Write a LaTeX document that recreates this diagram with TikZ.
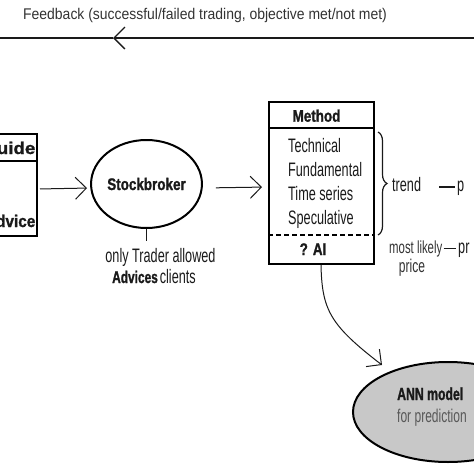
\documentclass[tikz,border=0pt]{standalone}
\usepackage{fontspec}
\setmainfont{Liberation Sans}
\newfontfamily\fbfont[FakeStretch=0.9]{Liberation Sans}
\newfontfamily\condfont[FakeStretch=0.65]{Liberation Sans}
\newfontfamily\condboldA[FakeStretch=0.8,BoldFeatures={FakeBold=1.2}]{Liberation Sans}
\newfontfamily\condboldB[FakeStretch=0.7,BoldFeatures={FakeBold=1.2}]{Liberation Sans}
\newfontfamily\condboldC[FakeStretch=0.9,BoldFeatures={FakeBold=1.2}]{Liberation Sans}
\newfontfamily\condboldD[FakeStretch=1.1,BoldFeatures={FakeBold=1.2}]{Liberation Sans}
\usetikzlibrary{arrows.meta,decorations.pathreplacing,shapes.geometric}
\definecolor{ink}{HTML}{1A1A1A}
\definecolor{fbink}{HTML}{333333}
\definecolor{anngray}{HTML}{C8C8C8}
\begin{document}
\begin{tikzpicture}[x=1pt,y=-1pt,
  conn/.style={draw=ink,line width=1pt},
  openarrow/.style={conn,-{Straight Barb[length=11pt,width=22pt]}},
  boxline/.style={draw=black,line width=2pt},
  txt/.style={inner sep=0pt,text=ink,font=\condfont\fontsize{19.5}{22}\selectfont},
  hdr/.style={inner sep=0pt,text=ink,font=\condboldA\bfseries\fontsize{16.8}{19}\selectfont},
  hdrB/.style={inner sep=0pt,text=ink,font=\condboldB\bfseries\fontsize{17.5}{19}\selectfont},
  hdrC/.style={inner sep=0pt,text=ink,font=\condboldC\bfseries\fontsize{17}{19}\selectfont}
]
\useasboundingbox (0,0) rectangle (474,474);
\clip (0,0) rectangle (474,474);

% feedback line
\node[inner sep=0pt,anchor=base west,text=fbink,font=\fbfont\fontsize{15.5}{18}\selectfont] (fb) at (23,19.5) {Feedback (successful/failed trading, objective met/not met)};
\coordinate (fbR) at (474,38);
\coordinate (fbM) at (113,38);
\coordinate (fbL) at (0,38);
\draw[openarrow,line width=1.3pt] (fbR) -- (fbM);
\draw[conn,line width=1.3pt] (fbM) -- (fbL);

% left box (Guide / Advice)
\node[boxline,rectangle,minimum width=78pt,minimum height=102pt,anchor=north east,inner sep=0pt] (guide) at (38,133) {};
\coordinate (guideDivL) at (-40,161);
\coordinate (guideDivR) at (38,161);
\draw[boxline] (guideDivL) -- (guideDivR);
\node[hdrC,font=\condboldD\bfseries\fontsize{17}{19}\selectfont,anchor=base east] (guideT) at (35.5,154) {Guide};
\node[hdrC,anchor=base east] (adviceT) at (35.5,227) {Advice};

% Stockbroker
\node[ellipse,boxline,minimum width=107pt,minimum height=88pt,inner sep=0pt,hdr] (broker) at (146.5,184) {Stockbroker};
\coordinate (tickB) at (146.5,241);
\draw[conn,line width=1.2pt] (broker.south) -- (tickB);
\node[txt,anchor=base] (only) at (160.5,262) {only Trader allowed};
\node[txt,anchor=base west] (advices) at (112,283) {{\condboldB\bfseries\fontsize{17}{19}\selectfont Advices}\hspace{2pt}clients};

% Method box
\node[boxline,rectangle,minimum width=105pt,minimum height=162pt,anchor=north west,inner sep=0pt] (method) at (268,101) {};
\coordinate (mDivL) at (268,128);
\coordinate (mDivR) at (373,128);
\draw[boxline] (mDivL) -- (mDivR);
\coordinate (mDashL) at (268,235);
\coordinate (mDashR) at (373,235);
\draw[boxline,dash pattern=on 5pt off 3pt] (mDashL) -- (mDashR);
\node[hdr,anchor=base] (methodT) at (316.5,121.7) {Method};
\node[txt,anchor=base west] (tech) at (288,152) {Technical};
\node[txt,anchor=base west] (fund) at (288,176) {Fundamental};
\node[txt,anchor=base west] (times) at (288,200) {Time series};
\node[txt,anchor=base west] (spec) at (288,224) {Speculative};
\node[hdr,anchor=base] (ai) at (313,255) {? AI};

% brace and outputs
\coordinate (brTop) at (378,132);
\coordinate (brBot) at (378,235);
\draw[draw=ink,line width=1.2pt,decorate,decoration={brace,amplitude=9pt}] (brTop) -- (brBot);
\node[txt,anchor=base west] (trend) at (392,191.7) {trend};
\node[txt,anchor=base west] (p1) at (457,191.7) {p};
\coordinate (dash1a) at (439,187);
\coordinate (dash1b) at (455,187);
\draw[conn,line width=1.2pt] (dash1a) -- (dash1b);
\node[txt,anchor=base west,text=fbink,font=\condfont\fontsize{17.5}{20}\selectfont] (likely) at (389,253) {most likely};
\node[txt,anchor=base west] (pr) at (458,253) {pr};
\coordinate (dash2a) at (443.5,248.5);
\coordinate (dash2b) at (456,248.5);
\draw[conn,line width=1.2pt] (dash2a) -- (dash2b);
\node[txt,anchor=base,text=fbink,font=\condfont\fontsize{18.5}{20}\selectfont] (price) at (412,272) {price};

% connectors
\draw[openarrow,shorten <=2pt,shorten >=3pt] ([yshift=-4pt]guide.east) -- ([yshift=-4pt]broker.west);
\draw[openarrow,shorten <=13pt,shorten >=6pt] ([yshift=-4pt]broker.east) -- ([yshift=-4pt]method.west);

% ANN model
\node[ellipse,boxline,fill=anngray,minimum width=190pt,minimum height=100pt] (ann) at (448,412) {};
\node[hdrB,anchor=base west] (annT) at (397,400) {ANN model};
\node[txt,anchor=base west,text=black!65,font=\condfont\fontsize{18.5}{21}\selectfont] (annP) at (397,422) {for prediction};

\draw[openarrow] ([xshift=-0.5pt]method.south) .. controls (322,310) and (330,325) .. (382,365);
\end{tikzpicture}
\end{document}
